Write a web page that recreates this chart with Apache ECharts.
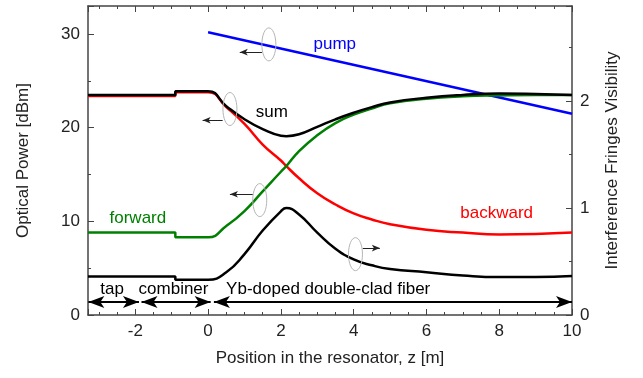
<!DOCTYPE html>
<html>
<head>
<meta charset="utf-8">
<script src="https://cdn.jsdelivr.net/npm/echarts@6/dist/echarts.min.js"></script>
<style>
  html, body { margin: 0; padding: 0; background: #fff; }
  #chart { width: 643px; height: 378px; }
</style>
</head>
<body>
<div id="chart"></div>
<script>
// positions along the resonator (m), step at the tap/combiner splice
const zPos = [-3.3, -0.9, -0.9, 0, 0.5, 1, 1.5, 2, 2.15, 2.5, 3, 3.5, 4, 4.5, 5, 6, 7, 8, 9, 10];
const sumPower = [23.5, 23.5, 23.9, 23.9, 22.3, 20.9, 19.85, 19.15, 19.1, 19.3, 20.1, 20.9, 21.6, 22.2, 22.7, 23.2, 23.5, 23.65, 23.6, 23.5];
const backwardPower = [23.4, 23.4, 23.8, 23.8, 22.2, 20.4, 18.2, 16.5, 15.9, 14.6, 13.0, 11.8, 10.85, 10.2, 9.7, 9.1, 8.8, 8.6, 8.65, 8.8];
const forwardPower = [8.8, 8.8, 8.3, 8.3, 9.5, 11.1, 13.2, 15.3, 15.9, 17.5, 19.2, 20.5, 21.4, 22.05, 22.6, 23.1, 23.35, 23.45, 23.5, 23.5];
const visibility = [0.36, 0.36, 0.33, 0.33, 0.40, 0.57, 0.79, 0.97, 1.0, 0.94, 0.77, 0.62, 0.52, 0.465, 0.43, 0.40, 0.37, 0.355, 0.355, 0.365];
const zPump = [0, 10];
const pumpPower = [30.2, 21.5];

const FONT = 'Liberation Sans, Arial, sans-serif';
const AXIS_COLOR = '#444';

let pairs = (xs, ys) => xs.map((x, i) => [x, ys[i]]);

// text labels placed in data coordinates
const notes = [
  { text: 'pump', at: [3.48, 28.9], color: '#0000ff' },
  { text: 'sum', at: [1.75, 21.6], color: '#000' },
  { text: 'forward', at: [-1.93, 10.35], color: '#008000' },
  { text: 'backward', at: [7.93, 10.9], color: '#ff0000' },
  { text: 'tap', at: [-2.64, 2.7], color: '#000' },
  { text: 'combiner', at: [-0.95, 2.7], color: '#000' },
  { text: 'Yb-doped double-clad fiber', at: [3.3, 2.7], color: '#000' }
];
// section arrows (double headed)
const sections = [[-3.29, -1.9], [-1.83, 0.07], [0.16, 10]];
const sectionLevel = 1.39;
// axis pointer arrows: [from, to]
const pointers = [
  [[1.48, 28.07], [0.87, 28.07]],
  [[0.4, 20.8], [-0.15, 20.8]],
  [[1.23, 12.9], [0.6, 12.9]],
  [[4.25, 7.15], [4.72, 7.15]]
];
const ellipses = [[1.67, 28.9], [0.6, 22.0], [1.42, 12.27], [4.05, 6.5]];

function lineSeries(name, data, color, yIndex) {
  return {
    name: name,
    type: 'line',
    data: data,
    yAxisIndex: yIndex,
    showSymbol: false,
    smooth: 0.5,
    lineStyle: { color: color, width: 2.5 },
    animation: false,
    z: 3
  };
}

let xAxisBase = {
  type: 'value',
  min: -3.3,
  max: 10,
  splitNumber: 6,
  minInterval: 2,
  maxInterval: 2,
  axisLine: { show: true, onZero: false, lineStyle: { color: AXIS_COLOR, width: 1.5 } },
  axisTick: { inside: true, length: 6, lineStyle: { color: AXIS_COLOR } },
  minorTick: { show: true, splitNumber: 4, length: 3, lineStyle: { color: AXIS_COLOR } },
  splitLine: { show: false }
};

let yAxisBase = {
  type: 'value',
  min: 0,
  axisLine: { show: true, onZero: false, lineStyle: { color: AXIS_COLOR, width: 1.5 } },
  axisTick: { inside: true, length: 6, lineStyle: { color: AXIS_COLOR } },
  minorTick: { show: true, splitNumber: 2, length: 3, lineStyle: { color: AXIS_COLOR } },
  splitLine: { show: false },
  axisLabel: { fontSize: 17, color: '#222', fontFamily: FONT, margin: 8, showMaxLabel: false },
  nameLocation: 'middle',
  nameTextStyle: { fontSize: 17, color: '#222', fontFamily: FONT }
};

let options = {
  backgroundColor: '#fff',
  animation: false,
  grid: { left: 88, right: 71, top: 6, bottom: 63 },
  xAxis: [
    Object.assign({}, xAxisBase, {
      position: 'bottom',
      name: 'Position in the resonator, z [m]',
      nameLocation: 'middle',
      nameGap: 35,
      nameTextStyle: { fontSize: 17, color: '#222', fontFamily: FONT },
      axisLabel: { fontSize: 17, color: '#222', fontFamily: FONT, margin: 8, showMinLabel: false }
    }),
    Object.assign({}, xAxisBase, {
      position: 'top',
      axisLabel: { show: false }
    })
  ],
  yAxis: [
    Object.assign({}, yAxisBase, {
      position: 'left',
      max: 33,
      interval: 10,
      name: 'Optical Power [dBm]',
      nameGap: 56
    }),
    Object.assign({}, yAxisBase, {
      position: 'right',
      max: 2.89,
      interval: 1,
      name: 'Interference Fringes Visibility',
      nameGap: 32,
      nameRotate: 90
    })
  ],
  series: [
    lineSeries('pump', pairs(zPump, pumpPower), '#0000ff', 0),
    lineSeries('backward', pairs(zPos, backwardPower), '#ff0000', 0),
    lineSeries('forward', pairs(zPos, forwardPower), '#008000', 0),
    lineSeries('sum', pairs(zPos, sumPower), '#000000', 0),
    lineSeries('visibility', pairs(zPos, visibility), '#000000', 1),
    {
      name: 'annotations',
      type: 'line',
      data: [],
      yAxisIndex: 0,
      silent: true,
      markLine: {
        silent: true,
        animation: false,
        label: { show: false },
        emphasis: { disabled: true },
        data: sections.map(s => [
          { coord: [s[0], sectionLevel], symbol: 'arrow', symbolSize: [9, 16] },
          { coord: [s[1], sectionLevel], symbol: 'arrow', symbolSize: [9, 16] }
        ]).concat(pointers.map(p => [
          { coord: p[0], symbol: 'none', lineStyle: { width: 1, color: '#222' } },
          { coord: p[1], symbol: 'arrow', symbolSize: [5, 8], lineStyle: { width: 1, color: '#222' } }
        ])),
        lineStyle: { color: '#000', width: 2, type: 'solid' }
      }
    }
  ]
};

let myChart = echarts.init(document.getElementById('chart'), null, { renderer: 'canvas' });
myChart.setOption(options);

// text and ellipse marks positioned through the chart's own scales
let toPx = (pt) => myChart.convertToPixel({ xAxisIndex: 0, yAxisIndex: 0 }, pt);
let graphics = [];
notes.forEach(n => {
  let p = toPx(n.at);
  graphics.push({
    type: 'text',
    x: p[0],
    y: p[1],
    style: {
      text: n.text,
      fill: n.color,
      font: '17px ' + FONT,
      align: 'center',
      verticalAlign: 'middle'
    },
    z: 10
  });
});
ellipses.forEach(e => {
  let p = toPx(e);
  graphics.push({
    type: 'ellipse',
    shape: { cx: p[0], cy: p[1], rx: 7, ry: 16.5 },
    style: { fill: 'none', stroke: '#b5b5b5', lineWidth: 1 },
    z: 10
  });
});
myChart.setOption({ graphic: graphics });
</script>
</body>
</html>
